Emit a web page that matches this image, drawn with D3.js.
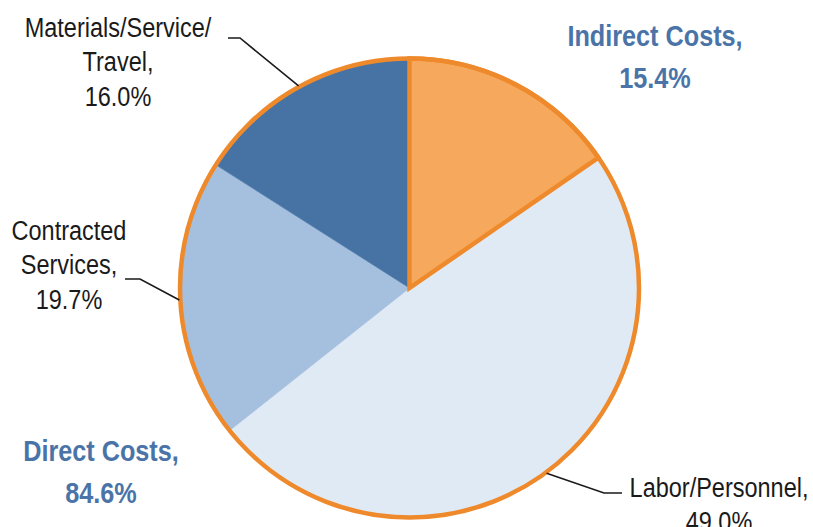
<!DOCTYPE html>
<html>
<head>
<meta charset="utf-8">
<script src="https://cdn.jsdelivr.net/npm/d3@7"></script>
<style>
  html, body { margin: 0; padding: 0; background: #ffffff; }
  svg { display: block; }
</style>
</head>
<body>
<svg id="chart" width="813" height="527"></svg>
<script>
// Cost breakdown, clockwise from 12 o'clock
const categories = ["Indirect Costs", "Labor/Personnel", "Contracted Services", "Materials/Service/Travel"];
const values = [15.4, 49.0, 19.7, 16.0];
const sliceColors = ["#F6A95C", "#E0EAF5", "#A5BFDF", "#4673A4"];

// Wrapped label text for each slice (value line is appended from `values`)
const sliceLabelLines = [
  null,
  ["Labor/Personnel,"],
  ["Contracted", "Services,"],
  ["Materials/Service/", "Travel,"]
];

// Group totals shown in bold blue
const groupNames = ["Indirect Costs,", "Direct Costs,"];
const groupValues = [15.4, 84.6];

const width = 813, height = 527;
const cx = 409.5, cy = 288, radius = 229.5;
const orange = "#EE8A2B";
const groupBlue = "#4A74A8";
const fontFamily = "'Liberation Sans', Arial, sans-serif";
const squeeze = 0.87;

const svg = d3.select("#chart");
const g = svg.append("g").attr("transform", `translate(${cx},${cy})`);

const pie = d3.pie().sort(null).value(d => d.value).startAngle(0).endAngle(2 * Math.PI);
const arcs = pie(categories.map((c, i) => ({ name: c, value: values[i], color: sliceColors[i] })));
const arc = d3.arc().innerRadius(0).outerRadius(radius);

// Slices
g.selectAll("path.slice")
  .data(arcs)
  .join("path")
  .attr("class", "slice")
  .attr("d", arc)
  .attr("fill", d => d.data.color)
  .attr("stroke", d => d.data.color)
  .attr("stroke-width", 0.6);

// Orange rim around the whole pie
g.append("circle")
  .attr("r", radius)
  .attr("fill", "none")
  .attr("stroke", orange)
  .attr("stroke-width", 4.5);

// Indirect slice gets a full orange outline
g.append("path")
  .attr("d", arc(arcs[0]))
  .attr("fill", "none")
  .attr("stroke", orange)
  .attr("stroke-width", 4.5)
  .attr("stroke-linejoin", "miter");

// Leader lines: from slice edge at mid-angle, to an elbow, then a short horizontal run
const leaderElbows = [null, [604, 493, 622], [140, 279, 125], [240, 38, 228]];
arcs.forEach((d, i) => {
  const el = leaderElbows[i];
  if (!el) return;
  const mid = (d.startAngle + d.endAngle) / 2;
  const ex = cx + Math.sin(mid) * (radius + 1);
  const ey = cy - Math.cos(mid) * (radius + 1);
  svg.append("polyline")
    .attr("points", `${ex},${ey} ${el[0]},${el[1]} ${el[2]},${el[1]}`)
    .attr("fill", "none")
    .attr("stroke", "#1a1a1a")
    .attr("stroke-width", 1.6);
});

function drawLabel(lines, x, y0, lineH, opts) {
  const t = svg.append("text")
    .attr("transform", `translate(${x},${y0}) scale(${squeeze},1)`)
    .attr("text-anchor", "middle")
    .attr("font-family", fontFamily)
    .attr("font-size", opts.size)
    .attr("font-weight", opts.weight)
    .attr("fill", opts.color);
  lines.forEach((ln, k) => {
    t.append("tspan").attr("x", 0).attr("y", k * lineH).text(ln);
  });
}

const fmt = v => d3.format(".1f")(v) + "%";

// Slice labels
const sliceLabelPos = [null, [719, 497], [69, 240], [118, 37]];
arcs.forEach((d, i) => {
  if (!sliceLabelLines[i]) return;
  const lines = sliceLabelLines[i].concat([fmt(values[i])]);
  drawLabel(lines, sliceLabelPos[i][0], sliceLabelPos[i][1], 34.5,
    { size: 27, weight: "normal", color: "#1a1a1a" });
});

// Group labels
const groupPos = [[655, 46], [101, 461]];
groupNames.forEach((n, i) => {
  drawLabel([n, fmt(groupValues[i])], groupPos[i][0], groupPos[i][1], 42,
    { size: 29, weight: "bold", color: groupBlue });
});
</script>
</body>
</html>
